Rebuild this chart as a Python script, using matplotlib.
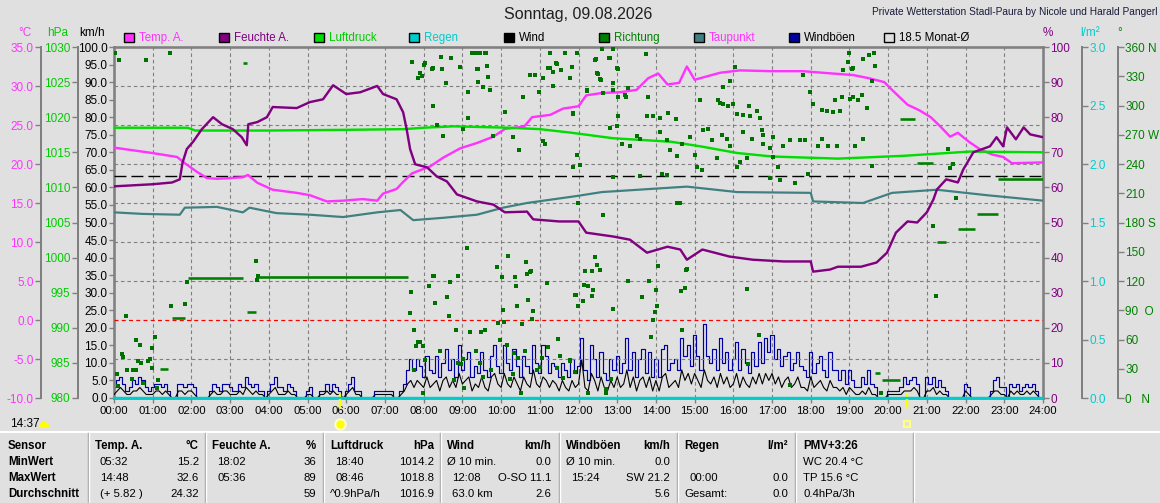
import numpy as np
import matplotlib
matplotlib.use('Agg')
import matplotlib.pyplot as plt
from matplotlib.patches import Rectangle, Wedge
from matplotlib.lines import Line2D
from matplotlib.transforms import blended_transform_factory

# ------------------------------------------------------------------
# Tagesdaten 09.08.2026
# ------------------------------------------------------------------
temp_t = [0, 1.0, 1.63, 1.83, 2.14, 2.4, 2.66, 3.33, 3.46, 3.7, 4.1, 4.72, 5.06, 5.5,
          5.92, 6.43, 6.8, 6.95, 7.3, 7.47, 7.7, 8.17, 8.5, 8.94, 9.38, 9.8, 10.1, 10.6,
          10.8, 11.27, 11.6, 12.0, 12.2, 12.6, 13.07, 13.5, 13.8, 14.06, 14.3, 14.6, 14.8,
          15.0, 15.66, 16.17, 16.95, 17.8, 18.3, 19.1, 19.5, 19.9, 20.1, 20.5, 20.8, 21.1,
          21.35, 21.6, 21.8, 22.1, 22.4, 22.7, 22.97, 23.2, 24.0]
temp_v = [22.1, 21.4, 20.9, 20.1, 19.0, 18.2, 18.1, 18.3, 18.6, 17.6, 16.7, 16.3, 16.0, 15.2,
          15.3, 15.5, 15.3, 16.2, 16.8, 17.7, 18.8, 19.7, 20.8, 22.0, 22.7, 23.5, 24.5, 24.8,
          26.0, 26.3, 27.1, 27.4, 28.8, 29.1, 29.2, 29.5, 31.0, 31.6, 30.2, 30.4, 32.5,
          30.8, 31.7, 32.0, 31.9, 31.9, 31.7, 31.4, 31.0, 30.5, 29.5, 27.6, 26.9, 26.0,
          24.8, 23.5, 24.0, 22.8, 21.8, 21.2, 20.9, 20.1, 20.2]

hum_t = [0, 1.0, 1.5, 1.7, 1.77, 1.88, 2.05, 2.27, 2.56, 2.79, 3.07, 3.3, 3.43, 3.47, 3.7,
         3.95, 4.1, 4.72, 5.06, 5.4, 5.66, 6.0, 6.36, 6.8, 6.95, 7.3, 7.47, 7.56, 7.65, 7.78,
         8.09, 8.34, 8.6, 8.86, 9.38, 9.8, 10.1, 10.67, 10.83, 11.5, 12.0, 12.2, 12.9, 13.33,
         13.77, 14.3, 14.63, 14.8, 15.2, 15.9, 16.5, 17.3, 18.0, 18.06, 18.5, 18.7, 19.3,
         19.7, 19.97, 20.2, 20.5, 20.75, 21.0, 21.17, 21.26, 21.5, 21.8, 21.94, 22.2, 22.63,
         22.8, 22.97, 23.07, 23.3, 23.5, 23.67, 24.0]
hum_v = [60.3, 60.9, 61.4, 62.3, 67, 70.9, 73.1, 76.6, 80, 78, 76.6, 74.3, 72, 78, 78.6,
         80, 82.9, 82.6, 84.3, 85.1, 89.1, 86.6, 87.1, 88.9, 86.6, 85.1, 81.4, 76.6, 70.9, 66.6,
         65.7, 63.1, 61.7, 58, 56, 55.1, 52.9, 53.1, 50.9, 50.3, 50.3, 47.1, 46, 45.1,
         41.4, 43.1, 42.3, 39.4, 42.3, 40.3, 39.4, 38.9, 38.9, 36, 36.6, 37.4, 37.4,
         38.6, 41.4, 47.1, 50.3, 50, 52.9, 56.6, 59.4, 62.3, 61.4, 65.1, 70, 71.7,
         74.3, 71.7, 77.1, 73.7, 77.1, 75.1, 74.3]

pres_t = [0, 1.9, 2.1, 4.0, 6.0, 7.5, 8.0, 8.77, 10.2, 11.0, 11.8, 12.9, 14.4, 15.2, 16.1,
          17.0, 18.7, 20.4, 22.1, 24]
pres_v = [1018.5, 1018.5, 1018.1, 1018.1, 1018.2, 1018.3, 1018.5, 1018.7, 1018.5, 1018.3,
          1017.8, 1017.0, 1016.5, 1015.8, 1014.9, 1014.4, 1014.1, 1014.5, 1015.1, 1015.0]

dew_t = [0, 0.75, 1.7, 1.83, 2.66, 3.33, 3.5, 4.2, 5.06, 5.92, 6.8, 7.4, 7.73, 8.5, 9.38,
         10.05, 10.67, 11.96, 12.6, 14.8, 16.1, 18.0, 18.06, 19.35, 20.1, 21.26, 22.55, 24]
dew_v = [13.8, 13.6, 13.5, 14.4, 14.5, 13.8, 14.4, 13.7, 13.5, 13.2, 13.8, 14.1, 12.8, 13.1,
         13.5, 14.4, 15.0, 15.9, 16.4, 17.1, 16.4, 16.3, 15.2, 15.0, 16.3, 16.7, 16.0, 15.3]

rain_t = [0, 24]
rain_v = [0.0, 0.0]

# Windböen und Wind, 5-Minuten-Werte km/h
gust_v = [3, 5, 6, 4, 2, 3, 5, 4, 6, 5, 3, 2,
          3, 4, 4, 3, 4, 2, 0, 0, 4, 4, 3, 4,
          4, 3, 0, 0, 0, 0, 2, 4, 3, 2, 4, 4,
          3, 2, 2, 4, 3, 6, 4, 3, 4, 2, 2, 0,
          2, 4, 6, 3, 3, 2, 4, 3, 2, 0, 0, 0,
          2, 3, 0, 0, 2, 2, 4, 2, 4, 3, 2, 0,
          2, 4, 6, 2, 2, 0, 0, 0, 0, 2, 2, 2,
          2, 2, 2, 0, 0, 2, 4, 8, 11, 8, 11, 9,
          6, 12, 8, 7, 12, 6, 10, 14, 8, 11, 6, 15,
          8, 11, 13, 6, 9, 7, 13, 8, 6, 12, 15, 9,
          7, 15, 10, 8, 14, 9, 6, 12, 9, 7, 15, 10,
          7, 15, 12, 7, 10, 9, 6, 10, 8, 6, 11, 7,
          9, 17, 8, 5, 15, 11, 6, 13, 7, 5, 11, 8,
          12, 7, 10, 17, 8, 13, 6, 11, 14, 7, 13, 6,
          11, 6, 14, 15, 8, 10, 11, 8, 17, 12, 15, 9,
          18, 12, 8, 21, 12, 10, 14, 8, 17, 10, 13, 8,
          11, 16, 8, 14, 10, 7, 13, 9, 16, 10, 17, 13,
          18, 11, 14, 9, 12, 13, 8, 10, 13, 9, 8, 6,
          13, 7, 10, 12, 8, 6, 13, 8, 8, 5, 8, 4,
          8, 5, 3, 3, 6, 4, 8, 4, 3, 0, 0, 0,
          2, 2, 2, 2, 3, 6, 4, 5, 6, 4, 0, 0,
          6, 4, 6, 3, 5, 3, 2, 0, 0, 0, 0, 0,
          4, 3, 0, 0, 0, 0, 0, 0, 2, 5, 6, 3,
          3, 0, 4, 3, 4, 2, 3, 4, 3, 4, 2, 0,
          0]
wind_v = [1, 2, 3, 2, 1, 1, 2, 2, 3, 2, 1, 1,
          1, 2, 2, 1, 2, 1, 0, 0, 2, 2, 1, 2,
          2, 1, 0, 0, 0, 0, 1, 2, 1, 1, 2, 2,
          1, 1, 1, 2, 1, 3, 2, 1, 2, 1, 1, 0,
          1, 2, 3, 1, 1, 1, 2, 1, 1, 0, 0, 0,
          1, 1, 0, 0, 1, 1, 2, 1, 2, 1, 1, 0,
          1, 2, 3, 1, 1, 0, 0, 0, 0, 1, 1, 1,
          1, 1, 1, 0, 0, 1, 2, 4, 5, 3, 5, 4,
          3, 6, 3, 4, 5, 2, 5, 6, 3, 5, 3, 7,
          4, 5, 6, 2, 4, 3, 6, 3, 2, 6, 7, 4,
          3, 7, 4, 3, 6, 4, 2, 6, 4, 3, 8, 4,
          3, 6, 5, 3, 5, 4, 2, 5, 3, 2, 5, 3,
          4, 11, 3, 2, 7, 5, 2, 6, 3, 2, 5, 3,
          6, 3, 4, 8, 3, 6, 2, 5, 6, 3, 6, 2,
          5, 2, 6, 7, 3, 4, 5, 3, 8, 5, 7, 4,
          7, 5, 3, 8, 5, 4, 6, 3, 7, 4, 6, 3,
          4, 7, 3, 6, 4, 3, 6, 4, 7, 4, 7, 5,
          7, 4, 6, 3, 5, 6, 3, 4, 6, 3, 3, 2,
          6, 3, 4, 5, 3, 2, 5, 3, 3, 2, 3, 1,
          3, 2, 1, 1, 2, 1, 3, 1, 1, 0, 0, 0,
          1, 1, 1, 1, 1, 2, 2, 2, 3, 2, 0, 0,
          2, 2, 3, 1, 2, 1, 1, 0, 0, 0, 0, 0,
          2, 1, 0, 0, 0, 0, 0, 0, 1, 2, 2, 1,
          1, 0, 2, 1, 2, 1, 1, 2, 1, 2, 1, 0,
          0]

# Windrichtung: Einzelwerte (Stunde, Grad)
dir_pts = [
    (0.03, 354), (0.13, 347), (0.83, 347), (1.45, 354),
    (7.70, 345), (8.01, 342), (8.24, 338), (8.45, 350), (8.71, 349), (8.94, 340), (9.28, 354),
    (9.38, 354), (9.59, 354), (9.64, 341), (9.38, 337), (9.66, 329), (10.75, 331), (11.27, 354),
    (11.65, 354), (11.45, 343), (11.83, 340), (11.27, 338), (11.34, 334), (11.09, 328),
    (8.58, 323), (7.91, 333), (7.86, 328), (9.15, 314), (9.53, 319), (10.57, 309), (10.98, 314),
    (11.34, 320), (8.24, 299), (9.15, 287), (10.10, 293), (11.86, 291), (8.35, 280), (8.50, 269),
    (9.02, 276), (9.79, 269), (10.31, 268), (11.09, 264), (11.14, 261), (10.47, 254),
    (11.86, 237), (9.12, 154), (10.18, 146), (9.90, 134), (10.65, 140), (10.75, 129),
    (10.36, 124), (8.89, 125), (8.24, 125), (3.67, 141),
    (8.04, 344), (7.96, 330), (8.22, 337), (8.48, 337), (9.25, 354), (9.30, 354), (9.46, 354),
    (9.61, 354), (9.41, 337), (9.41, 324), (9.72, 316), (10.88, 331), (11.21, 338),
    (11.42, 344), (11.55, 336), (11.78, 328), (12.22, 315), (12.43, 347), (12.79, 349),
    (12.61, 358), (12.89, 358), (12.51, 332), (12.58, 326), (13.02, 337), (12.89, 323),
    (13.02, 309), (13.23, 309), (13.75, 353), (13.28, 318), (13.8, 309), (15.14, 306),
    (15.61, 306), (15.66, 303), (15.74, 302), (15.87, 299), (15.99, 302), (16.05, 340),
    (15.92, 325), (15.74, 319), (16.41, 299), (16.61, 294), (16.10, 291),
    (19.0, 354), (19.64, 354), (19.51, 352), (19.35, 348), (18.97, 345), (19.66, 341),
    (19.07, 337), (19.10, 338), (18.84, 336), (19.59, 325), (17.8, 331), (18.06, 302),
    (18.29, 295), (18.42, 294), (18.58, 293), (18.76, 294), (18.63, 306), (19.02, 307),
    (19.10, 309), (19.22, 306), (19.33, 311), (19.46, 297), (18.81, 309), (17.98, 314),
    (11.96, 354), (12.45, 348), (12.82, 349), (12.48, 333), (12.56, 327), (13.0, 338),
    (12.89, 316), (12.22, 316), (12.64, 313), (13.2, 311), (11.86, 292), (13.02, 289),
    (13.77, 289), (14.1, 287), (14.32, 292), (14.52, 286), (16.25, 290), (16.43, 289),
    (16.69, 287), (16.25, 273), (16.49, 266), (16.74, 275), (16.77, 270), (17.03, 268),
    (12.82, 277), (13.0, 279), (11.96, 249), (12.04, 239), (13.13, 261), (13.33, 258),
    (13.51, 269), (13.59, 266), (13.93, 289), (14.1, 273), (14.29, 265), (14.37, 254),
    (14.55, 248), (14.68, 261), (14.88, 268), (15.01, 249), (15.06, 237), (15.19, 234),
    (15.22, 275), (15.35, 276), (15.45, 265), (15.58, 246), (15.71, 270), (15.84, 266),
    (15.92, 258), (16.1, 237), (16.18, 242), (16.36, 246), (16.77, 261), (16.95, 256),
    (17.03, 247), (17.16, 237), (17.29, 258), (17.47, 265), (17.73, 265), (17.86, 265),
    (18.19, 258), (18.29, 266), (18.45, 258), (18.68, 258),
    (12.64, 188), (12.43, 145), (12.48, 136), (12.56, 131), (12.35, 130), (14.8, 132),
    (14.06, 135), (14.55, 200), (14.63, 200), (17.6, 221), (16.95, 226), (17.21, 224),
    (17.93, 230), (21.16, 176), (21.6, 236), (21.68, 240), (21.76, 205), (21.55, 255),
    (19.59, 238), (19.35, 266), (19.15, 258), (13.59, 228), (14.29, 229), (14.16, 230),
    (12.89, 227), (11.99, 200),
    (0.08, 25), (0.10, 12), (0.21, 45), (0.23, 42), (0.31, 84), (0.34, 29), (0.47, 19),
    (0.49, 29), (0.57, 59), (0.67, 54), (0.57, 29), (0.62, 38), (0.70, 36), (0.75, 15),
    (0.88, 38), (0.93, 40), (0.98, 31), (0.98, 51), (1.06, 63), (1.14, 18), (1.11, 10),
    (1.47, 94), (1.89, 119), (1.83, 96), (3.69, 121), (3.72, 125),
    (7.65, 87), (7.67, 109), (7.75, 70), (7.80, 53), (7.86, 57), (7.91, 57), (7.98, 53),
    (8.04, 39), (7.75, 29), (7.98, 5), (8.14, 115), (8.29, 97), (8.27, 125), (8.42, 48),
    (8.60, 104), (8.66, 84), (8.68, 119), (8.84, 70), (8.79, 18), (8.89, 36), (8.97, 35),
    (9.02, 40), (9.04, 10), (9.20, 68), (9.48, 68), (9.59, 70), (9.36, 48), (9.46, 36),
    (9.53, 22), (9.74, 29), (9.92, 77), (9.97, 60), (10.05, 90), (10.08, 78), (10.16, 54),
    (10.03, 124), (10.23, 19), (10.31, 25), (10.34, 46), (10.39, 115), (10.41, 94),
    (10.44, 41), (10.52, 5), (10.54, 76), (10.62, 48), (10.67, 127), (10.78, 130),
    (10.70, 101), (10.80, 81), (10.83, 89), (10.93, 29), (11.01, 32), (11.06, 41),
    (11.19, 118), (11.21, 52), (11.45, 31), (11.47, 61), (11.53, 43), (11.60, 21),
    (11.78, 39), (11.94, 106), (11.91, 27),
    (12.17, 130), (12.56, 131), (12.14, 116), (12.25, 115), (12.38, 111), (12.35, 105),
    (11.91, 106), (12.12, 100), (11.99, 94), (12.89, 91), (13.28, 120), (13.64, 104),
    (13.82, 120), (14.0, 111), (14.03, 94), (13.98, 88), (13.93, 80), (13.87, 63),
    (14.68, 70), (14.65, 110), (14.75, 113), (14.78, 131), (16.36, 112), (16.67, 65),
    (16.38, 35), (11.78, 38), (12.84, 20), (12.71, 5), (12.71, 9), (12.25, 5), (17.47, 13),
    (21.24, 105), (19.82, 5),
]
dir_t = [p[0] for p in dir_pts]
dir_deg = [p[1] for p in dir_pts]

# Windrichtung bei Flaute: (von, bis, Grad)
dir_bars = [(0.72, 0.80, 15), (1.19, 1.40, 30), (1.50, 1.83, 82), (1.91, 3.33, 123),
            (3.33, 3.44, 344), (3.44, 3.67, 88), (3.72, 7.60, 124), (19.67, 19.80, 26),
            (19.85, 20.30, 18), (20.30, 20.70, 286), (20.75, 21.16, 241), (21.26, 21.50, 160),
            (21.60, 21.70, 240), (21.80, 22.25, 173), (22.30, 22.85, 189), (22.85, 24.0, 225)]

month_avg = 18.5
sunrise, sunset = 5.85, 20.48
moonrise = '14:37'

hours = list(range(25))
hour_labels = ['%02d:00' % h for h in hours]

legend_items = [('Temp. A.', '#ff33ff', '#ff33ff'), ('Feuchte A.', '#800080', '#800080'),
                ('Luftdruck', '#00dd00', '#00cc00'), ('Regen', '#00cccc', '#00cccc'),
                ('Wind', '#000000', '#000000'), ('Richtung', '#008000', '#008000'),
                ('Taupunkt', '#408080', '#ff33ff'), ('Windböen', '#0000a0', '#000000'),
                ('18.5 Monat-Ø', 'none', '#000000')]

# Tabelle: (Kopf links, Kopf rechts, [(links, rechts) je Zeile])
row_heads = ['Sensor', 'MinWert', 'MaxWert', 'Durchschnitt']
table_cols = [
    ('Temp. A.', '°C', [('05:32', '15.2'), ('14:48', '32.6'), ('(+ 5.82 )', '24.32')]),
    ('Feuchte A.', '%', [('18:02', '36'), ('05:36', '89'), ('', '59')]),
    ('Luftdruck', 'hPa', [('18:40', '1014.2'), ('08:46', '1018.8'), ('^0.9hPa/h', '1016.9')]),
    ('Wind', 'km/h', [('Ø 10 min.', '0.0'), ('12:08', 'O-SO 11.1'), ('63.0 km', '2.6')]),
    ('Windböen', 'km/h', [('Ø 10 min.', '0.0'), ('15:24', 'SW 21.2'), ('', '5.6')]),
    ('Regen', 'l/m²', [('', ''), ('00:00', '0.0'), ('Gesamt:', '0.0')]),
]
pmv_head = 'PMV+3:26'
pmv_lines = ['WC 20.4 °C', 'TP 15.6 °C', '0.4hPa/3h']

# ------------------------------------------------------------------
plt.rcParams['font.family'] = ['Liberation Sans', 'DejaVu Sans']

W, H = 1160, 503
BG = '#e0e0e0'
GRID = '#808080'
PX = 0.72

fig = plt.figure(figsize=(W / 100, H / 100), dpi=100, facecolor=BG)


def fx(x):
    return x / W


def fy(y):
    return 1 - y / H


L, R, T, B = 114, 1043, 47, 398
ax = fig.add_axes([fx(L), fy(B), (R - L) / W, (B - T) / H])
ax.set_facecolor(BG)
ax.set_xlim(0, 24)
ax.set_ylim(0, 100)
for s in ax.spines.values():
    s.set_color(GRID)
    s.set_linewidth(2.6 * PX)


def side_axis(lim, side, offset_px, ticks, labels, color):
    a = ax.twinx()
    a.set_ylim(*lim)
    for s in a.spines.values():
        s.set_visible(False)
    if side == 'left':
        a.yaxis.tick_left()
    else:
        a.yaxis.tick_right()
    sp = a.spines[side]
    sp.set_visible(offset_px > 0)
    sp.set_position(('outward', offset_px * PX))
    sp.set_color(GRID)
    sp.set_linewidth(2 * PX)
    a.set_yticks(ticks)
    a.set_yticklabels(labels)
    a.tick_params(axis='y', direction='out', length=6 * PX, width=1, color=GRID,
                  labelcolor=color, labelsize=8.5, pad=1)
    return a


t_ticks = list(range(-10, 36, 5))
ax_t = side_axis((-10, 35), 'left', 73, t_ticks, ['%.1f' % v for v in t_ticks], '#ff33ff')
p_ticks = list(range(980, 1031, 5))
ax_p = side_axis((980, 1030), 'left', 36, p_ticks, ['%d' % v for v in p_ticks], '#00cc00')
h_ticks = list(range(0, 101, 10))
ax_h = side_axis((0, 100), 'right', 0, h_ticks, ['%d' % v for v in h_ticks], '#800080')
r_ticks = [0, 0.5, 1.0, 1.5, 2.0, 2.5, 3.0]
ax_r = side_axis((0, 3), 'right', 39, r_ticks, ['%.1f' % v for v in r_ticks], '#00cccc')
d_ticks = list(range(0, 361, 30))
d_names = {0: '   N', 90: '  O', 180: ' S', 270: ' W', 360: ' N'}
ax_d = side_axis((0, 360), 'right', 75, d_ticks,
                 ['%d%s' % (v, d_names.get(v, '')) for v in d_ticks], '#008000')

# km/h axis on the frame
w_ticks = list(range(0, 101, 5))
ax.set_yticks(w_ticks)
ax.set_yticklabels(['%.1f' % v for v in w_ticks])
ax.tick_params(axis='y', direction='out', length=5 * PX, width=1, color=GRID,
               labelsize=8.5, pad=1, right=False)
ax.set_xticks(hours)
ax.set_xticklabels(hour_labels)
ax.tick_params(axis='x', direction='out', length=5 * PX, width=1, color=GRID,
               labelsize=8.2, pad=2)

# grid
dash = (0, (3.2, 2.6))
for h in hours[1:-1]:
    ax.axvline(h, color=GRID, lw=0.8, ls=dash, zorder=0)
for v in t_ticks[1:-1]:
    if v == 0:
        ax_t.axhline(v, color='#ff0000', lw=0.9, ls=dash, zorder=0)
    else:
        ax_t.axhline(v, color=GRID, lw=0.8, ls=dash, zorder=0)
ax_t.axhline(month_avg, color='black', lw=1.0, ls=(0, (8.6, 3.6)), zorder=1)

# wind
wind_t = np.arange(len(gust_v)) * 5 / 60.0
ax.plot(wind_t, gust_v, color='#0000a0', lw=0.85, drawstyle='steps-mid', zorder=2)
ax.plot(wind_t, wind_v, color='black', lw=0.8, zorder=3)

# direction
ax_d.scatter(dir_t, dir_deg, s=5.5, marker='s', color='#007000', linewidths=0, zorder=3)
for t0, t1, d in dir_bars:
    ax_d.plot([t0, t1], [d, d], color='#008000', lw=2.6 * PX, solid_capstyle='butt', zorder=3)

# main series
ax_p.plot(pres_t, pres_v, color='#00dd00', lw=2.4 * PX, zorder=4)
ax_t.plot(dew_t, dew_v, color='#408080', lw=2.2 * PX, zorder=4)
ax_h.plot(hum_t, hum_v, color='#800080', lw=2.4 * PX, zorder=5)
ax_t.plot(temp_t, temp_v, color='#ff33ff', lw=2.4 * PX, zorder=6)
ax_r.plot(rain_t, rain_v, color='#00cccc', lw=2.4 * PX, clip_on=False, zorder=10)

# sunrise / sunset markers
bt = blended_transform_factory(ax.transData, fig.transFigure)
for st in (sunrise, sunset):
    ax.plot([st, st], [fy(395), fy(407)], color='#ffff00', lw=2.5 * PX, transform=bt,
            clip_on=False, zorder=11)
ax.plot([sunrise], [fy(424)], marker='o', ms=11 * PX, color='#ffffc8', mec='#ffffc8',
        transform=bt, clip_on=False)
ax.plot([sunrise], [fy(424)], marker='o', ms=7 * PX, color='#ffff00', mec='#ffff00',
        transform=bt, clip_on=False)
ax.plot([sunset], [fy(424)], marker='s', ms=6 * PX, mfc='none', mec='#ffff80', mew=1.5,
        transform=bt, clip_on=False)

# moon
fig.text(fx(10), fy(424), moonrise, ha='left', va='center', fontsize=8.5)
fig.patches.append(Wedge((44 / 100, (H - 427) / 100), 0.045, 0, 180, color='#ffff00',
                         transform=fig.dpi_scale_trans))

# title, credit, units
fig.text(fx(578), fy(15), 'Sonntag, 09.08.2026', ha='center', va='center',
         fontsize=11.5, color='#202020')
fig.text(fx(1157), fy(12), 'Private Wetterstation Stadl-Paura by Nicole und Harald Pangerl',
         ha='right', va='center', fontsize=7.3, color='#1a1a3a')
for x, s, c in [(25, '°C', '#ff33ff'), (58, 'hPa', '#00cc00'), (92, 'km/h', 'black'),
                (1048, '%', '#800080'), (1090, 'l/m²', '#00cccc'), (1120, '°', '#008000')]:
    fig.text(fx(x), fy(33), s, ha='center', va='center', fontsize=8.5, color=c)

# legend
for i, (name, face, tc) in enumerate(legend_items):
    x0 = 124 + 95 * i
    fig.patches.append(Rectangle((fx(x0), fy(42)), 10 / W, 9 / H, transform=fig.transFigure,
                                 facecolor=face, edgecolor='black', lw=1))
    fig.text(fx(x0 + 15), fy(38), name, ha='left', va='center', fontsize=8.3, color=tc)

# table
fig.lines.append(Line2D([0, 1], [fy(432), fy(432)], color='white', lw=1.5,
                        transform=fig.transFigure))
for x in [88, 205, 323, 440, 559, 677, 795, 913]:
    fig.lines.append(Line2D([fx(x), fx(x)], [fy(433), 0], color='#a0a0a0', lw=1,
                            transform=fig.transFigure))
    fig.lines.append(Line2D([fx(x + 1), fx(x + 1)], [fy(433), 0], color='white', lw=1,
                            transform=fig.transFigure))

row_y = [446, 462, 478, 494]
for y, s in zip(row_y, row_heads):
    fig.text(fx(8), fy(y), s, ha='left', va='center', fontsize=8.3, weight='bold')

col_left = [88, 205, 323, 440, 559, 677]
for x0, (hl, hr, rows) in zip(col_left, table_cols):
    fig.text(fx(x0 + 7), fy(row_y[0]), hl, ha='left', va='center', fontsize=8.3, weight='bold')
    fig.text(fx(x0 + 111), fy(row_y[0]), hr, ha='right', va='center', fontsize=8.3,
             weight='bold')
    for y, (a, b) in zip(row_y[1:], rows):
        indent = 7 if a.startswith(('Ø', 'Gesamt', '^')) else 12
        fig.text(fx(x0 + indent), fy(y), a, ha='left', va='center', fontsize=8.2)
        fig.text(fx(x0 + 111), fy(y), b, ha='right', va='center', fontsize=8.2)

fig.text(fx(803), fy(row_y[0]), pmv_head, ha='left', va='center', fontsize=8.3, weight='bold')
for y, s in zip(row_y[1:], pmv_lines):
    fig.text(fx(803), fy(y), s, ha='left', va='center', fontsize=8.2)

fig.savefig('out.png', dpi=100, facecolor=BG)
